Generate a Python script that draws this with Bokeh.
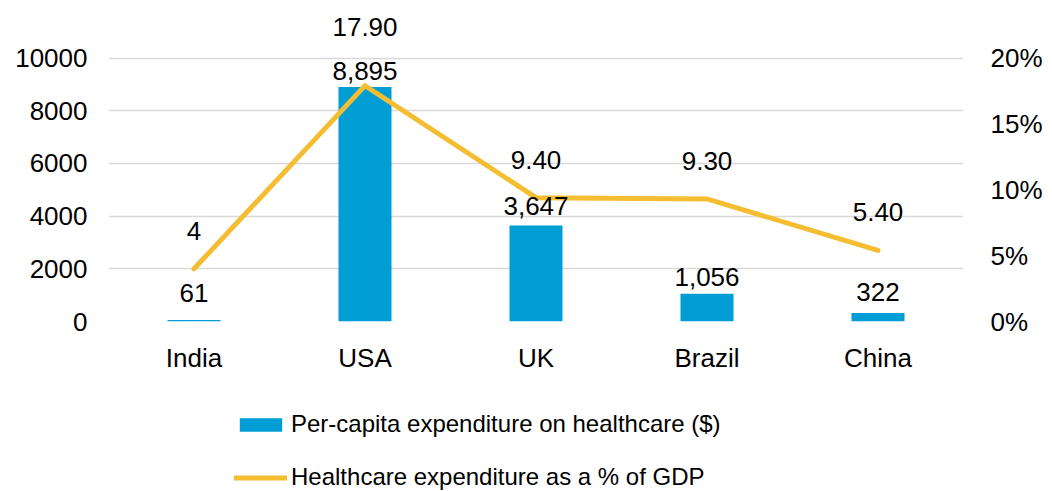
from bokeh.plotting import figure
from bokeh.layouts import column
from bokeh.models import (ColumnDataSource, FactorRange, Range1d, LinearAxis, FixedTicker,
                          PrintfTickFormatter, Legend, LegendItem)
from bokeh.core.properties import value
from bokeh.embed import file_html
from bokeh.resources import INLINE

# ---- data ----
countries = ["India", "USA", "UK", "Brazil", "China"]
per_capita = [61, 8895, 3647, 1056, 322]
gdp_pct = [4, 17.9, 9.4, 9.3, 5.4]
gdp_pct_labels = ["4", "17.90", "9.40", "9.30", "5.40"]
left_ticks = [0, 2000, 4000, 6000, 8000, 10000]
right_ticks = [0, 5, 10, 15, 20]
bar_series_name = "Per-capita expenditure on healthcare ($)"
line_series_name = "Healthcare expenditure as a % of GDP"

# ---- style ----
FONT = "Liberation Sans"
BAR_COLOR = "#009ED5"
LINE_COLOR = "#F5BE32"
TEXT_COLOR = "#000000"
BASELINE_FIX = 10
bar_label_lift = [17, 6, 9, 7, 11]
line_label_lift = [28, 49, 28, 28, 28]

MAIN_H = 385
TOP_B = 4
LEFT_B = 108
RIGHT_B = 89
FRAME_H = 317
PX_PER_10K = 263.5
LEFT_MAX = 10000 * FRAME_H / PX_PER_10K
RIGHT_MAX = 20 * FRAME_H / PX_PER_10K

src = ColumnDataSource(dict(
    country=countries,
    spend=per_capita,
    spend_label=[f"{v:,}" for v in per_capita],
    pct=gdp_pct,
    pct_label=gdp_pct_labels,
    bar_off=[-(v + BASELINE_FIX) for v in bar_label_lift],
    line_off=[-(v + BASELINE_FIX) for v in line_label_lift],
))

p = figure(width=1052, height=MAIN_H, x_range=FactorRange(*countries, range_padding=0),
           y_range=Range1d(0, LEFT_MAX), output_backend="svg", toolbar_location=None,
           min_border_left=LEFT_B, min_border_right=RIGHT_B, min_border_top=TOP_B,
           min_border_bottom=MAIN_H - TOP_B - FRAME_H)
p.extra_y_ranges = {"pct": Range1d(0, RIGHT_MAX)}
p.outline_line_color = None
p.background_fill_color = "white"
p.border_fill_color = "white"

p.xgrid.grid_line_color = None
p.ygrid.grid_line_color = "#D9D9D9"
p.ygrid.grid_line_width = 1.5
p.ygrid.ticker = FixedTicker(ticks=left_ticks)

bars = p.vbar(x="country", top="spend", width=0.31, source=src,
              fill_color=BAR_COLOR, line_color=None)
line = p.line(x="country", y="pct", source=src, y_range_name="pct",
              line_color=LINE_COLOR, line_width=5, line_cap="round", line_join="miter")

p.text(x="country", y="spend", text="spend_label", source=src, y_offset="bar_off",
       text_align="center", text_baseline="alphabetic",
       text_font=value(FONT), text_font_size="26px", text_color=TEXT_COLOR)
p.text(x="country", y="pct", text="pct_label", source=src, y_offset="line_off",
       y_range_name="pct", text_align="center", text_baseline="alphabetic",
       text_font=value(FONT), text_font_size="26px", text_color=TEXT_COLOR)

def style_axis(ax, standoff):
    ax.axis_line_color = None
    ax.major_tick_line_color = None
    ax.minor_tick_line_color = None
    ax.major_label_text_font = FONT
    ax.major_label_text_font_size = "26px"
    ax.major_label_text_color = TEXT_COLOR
    ax.major_label_standoff = standoff

style_axis(p.xaxis[0], 15)
style_axis(p.yaxis[0], 15)
p.yaxis[0].ticker = FixedTicker(ticks=left_ticks)
p.yaxis[0].formatter = PrintfTickFormatter(format="%d")

ax_r = LinearAxis(y_range_name="pct", ticker=FixedTicker(ticks=right_ticks),
                  formatter=PrintfTickFormatter(format="%d%%"))
style_axis(ax_r, 21)
p.add_layout(ax_r, "right")

# ---- legend in its own strip below the chart ----
LEG_H = 491 - MAIN_H
LEG_TOP_GAP = 27
LEG_ROWS_H = 79
lg = figure(width=1052, height=LEG_H, x_range=Range1d(0, 1), y_range=Range1d(0, 1),
            x_axis_type=None, y_axis_type=None, output_backend="svg", toolbar_location=None,
            min_border_left=LEFT_B, min_border_top=0, min_border_right=RIGHT_B, min_border_bottom=0)
lg.outline_line_color = None
lg.grid.grid_line_color = None
lg.background_fill_color = "white"
lg.border_fill_color = "white"
# placeholder renderers (outside the visible range) that only supply legend swatches
lg_bar = lg.vbar(x=[-5], top=[-5], width=0.3, fill_color=BAR_COLOR, line_color=None)
lg_line = lg.line(x=[-5, -4], y=[-5, -5], line_color=LINE_COLOR, line_width=5, line_cap="round")

legend = Legend(items=[LegendItem(label=bar_series_name, renderers=[lg_bar]),
                       LegendItem(label=line_series_name, renderers=[lg_line])],
                location=(126, LEG_H - LEG_TOP_GAP - LEG_ROWS_H), orientation="vertical",
                glyph_width=53, glyph_height=17, label_standoff=4,
                label_text_font=FONT, label_text_font_size="24px", label_text_color=TEXT_COLOR,
                padding=0, margin=0, spacing=25, border_line_color=None,
                background_fill_alpha=0)
lg.add_layout(legend, "center")

open("out.html", "w").write(file_html(column(p, lg, spacing=0), INLINE))
